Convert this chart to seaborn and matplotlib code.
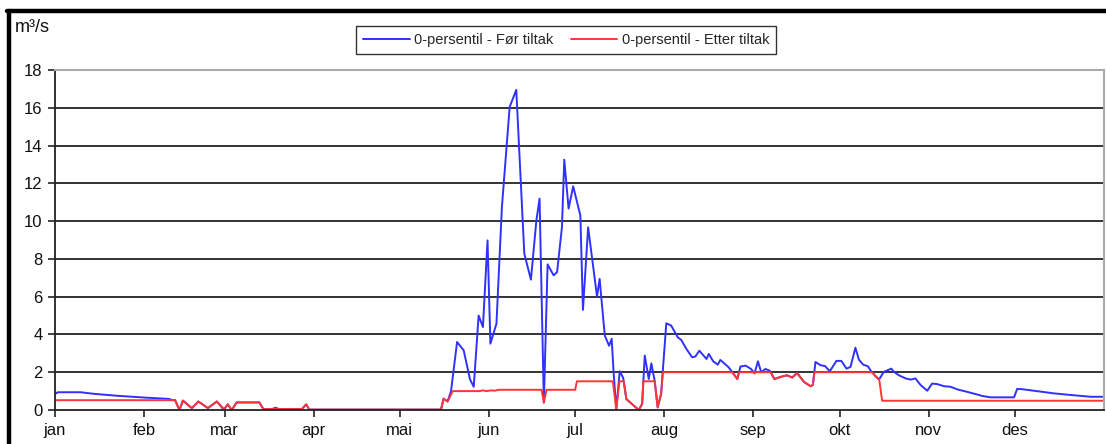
import numpy as np
import pandas as pd
import matplotlib
matplotlib.use("Agg")
import matplotlib.pyplot as plt
from matplotlib.lines import Line2D
import seaborn as sns

# ---- data (day of year, m3/s) ----
month_labels = ["jan", "feb", "mar", "apr", "mai", "jun", "jul", "aug", "sep", "okt", "nov", "des"]
month_starts = [0, 31, 59, 90, 120, 151, 181, 212, 243, 273, 304, 334]
y_ticks = [0, 2, 4, 6, 8, 10, 12, 14, 16, 18]

before_days = [0, 1, 9, 11, 14, 18, 22, 27, 32, 39.5, 41, 41.8, 43.3, 44.5, 47.6, 49.9, 53.2, 56.3, 58.8,
               60.1, 61.5, 63.2, 71.1, 72.5, 75.5, 76.7, 78, 85.9, 87.4, 88.5, 134.3, 135.2, 136.6, 137.8,
               139.9, 142.2, 144.4, 145.7, 147.4, 148.9, 150.5, 151.5, 153.6, 155.5, 158.2, 160.5, 161.7,
               163.3, 165.6, 167.5, 168.6, 170.1, 171.4, 173.5, 174.7, 176.4, 177.2, 178.7, 180.3, 182.8,
               183.7, 185.5, 188.6, 189.5, 191.3, 192.8, 193.7, 194.4, 195.3, 196.5, 197.7, 198.8, 201.4,
               203.1, 204.3, 205.2, 206.6, 207.5, 208.6, 209.7, 210.9, 212.7, 214.4, 216.7, 217.9, 219.7,
               221.7, 222.8, 224.2, 226.7, 227.5, 229, 230.6, 231.5, 234.4, 237.4, 238.5, 240.3, 242.2,
               243.4, 244.6, 245.7, 247.2, 248.7, 250.3, 252.4, 254.7, 256.5, 258.2, 260.6, 262.9, 263.7,
               264.6, 266.4, 267.9, 269.6, 271.9, 273.6, 275.4, 276.8, 278.5, 279.7, 281.2, 282.8, 284,
               285.5, 286.7, 288.4, 289.6, 291, 291.9, 293.6, 296, 297.7, 299.4, 301.2, 303.5, 305.2, 307,
               309.3, 311.6, 314, 317.4, 320.9, 322.7, 325.6, 333.7, 334.8, 337.1, 340.6, 344.1, 347.6,
               352.3, 356.9, 360.4, 364.4]
before_vals = [0.85, 0.94, 0.94, 0.9, 0.85, 0.8, 0.75, 0.7, 0.65, 0.59, 0.52, 0.52, 0.0, 0.5, 0.1, 0.45, 0.1,
               0.45, 0.0, 0.3, 0.0, 0.4, 0.4, 0.05, 0.05, 0.12, 0.05, 0.05, 0.3, 0.02, 0.02, 0.6, 0.45, 1.0,
               3.6, 3.16, 1.62, 1.23, 5.0, 4.39, 8.98, 3.51, 4.57, 10.74, 16.04, 16.95, 13.2,
               8.27, 6.9, 10.04, 11.19, 0.39, 7.71, 7.13, 7.3, 9.69, 13.25, 10.66, 11.84, 10.3,
               5.3, 9.67, 6.0, 6.94, 3.94, 3.4, 3.77, 1.91, 0.05, 2.05, 1.70, 0.58, 0.23,
               0.0, 0.32, 2.88, 1.64, 2.47, 1.59, 0.14, 0.85, 4.59, 4.47, 3.85, 3.71, 3.23,
               2.79, 2.83, 3.14, 2.70, 2.97, 2.58, 2.40, 2.65, 2.26, 1.64, 2.30, 2.35, 2.17,
               1.94, 2.58, 2.0, 2.17, 2.08, 1.64, 1.75, 1.84, 1.72, 1.96, 1.49, 1.26, 1.32,
               2.54, 2.37, 2.33, 2.05, 2.6, 2.6, 2.19, 2.28, 3.30, 2.67, 2.4, 2.32, 2.05,
               1.79, 1.61, 2.02, 2.1, 2.19, 2.02, 1.84, 1.67, 1.61, 1.67, 1.32, 1.02, 1.40, 1.37,
               1.26, 1.23, 1.09, 0.96, 0.82, 0.74, 0.67, 0.67, 1.12, 1.09, 1.02, 0.95, 0.88,
               0.81, 0.75, 0.70, 0.70]

after_days = [0, 41.8, 43.3, 44.5, 47.6, 49.9, 53.2, 56.3, 58.8, 60.1, 61.5, 63.2, 71.1, 72.5, 85.9, 87.4,
              88.5, 134.3, 135.2, 136.6, 138.4, 147.6, 149, 150, 152, 153, 154.4, 169.3, 170.1, 171.0,
              181, 181.6, 194.1, 195.3, 196.4, 197.9, 198.8, 201.4, 203.1, 204.3, 204.7, 208.7, 209.7,
              210.9, 211.5, 235.7, 237.4, 238.0, 243.1, 243.4, 243.5, 249.0, 250.3, 252.4, 254.7, 256.5,
              258.2, 260.6, 262.9, 263.7, 264.25, 284.3, 285.5, 286.8, 287.8, 365]
after_vals = [0.52, 0.52, 0.0, 0.5, 0.1, 0.45, 0.1, 0.45, 0.05, 0.3, 0.0, 0.4, 0.4, 0.05, 0.05, 0.3,
              0.02, 0.02, 0.6, 0.45, 1.0, 1.0, 1.04, 1.0, 1.04, 1.02, 1.07, 1.07, 0.39, 1.07,
              1.07, 1.52, 1.52, 0.05, 1.52, 1.52, 0.58, 0.23, 0.0, 0.32, 1.52, 1.52, 0.14,
              0.85, 2.0, 2.0, 1.64, 2.0, 2.0, 1.94, 2.0, 2.0, 1.64, 1.75, 1.84, 1.72,
              1.96, 1.49, 1.26, 1.32, 2.0, 2.0, 1.79, 1.61, 0.49, 0.49]

series_names = ["0-persentil - Før tiltak", "0-persentil - Etter tiltak"]

df = pd.concat([
    pd.DataFrame({"day": before_days, "q": before_vals, "serie": series_names[0]}),
    pd.DataFrame({"day": after_days, "q": after_vals, "serie": series_names[1]}),
], ignore_index=True)

sns.set_theme(style="white")
plt.rcParams["font.family"] = ["Liberation Sans", "DejaVu Sans"]

W, H = 1106, 444
fig = plt.figure(figsize=(W / 100, H / 100), dpi=100)
ax = fig.add_axes([55 / W, 1 - 410 / H, (1104 - 55) / W, (410 - 70) / H])

blue, red = "#3030ff", "#ff3535"
sns.lineplot(data=df, x="day", y="q", hue="serie", palette=[blue, red],
             linewidth=1.4, ax=ax, sort=False, estimator=None, legend=False)

ax.set_xlim(0, 365)
ax.set_ylim(0, 18)
ax.set_yticks(y_ticks)
ax.set_yticklabels([str(v) for v in y_ticks], fontsize=12, color="#111111")
ax.set_xticks(month_starts)
ax.set_xticklabels(month_labels, fontsize=12, color="#111111")
ax.set_xlabel("")
ax.set_ylabel("")
for y in y_ticks[1:-1]:
    ax.axhline(y, color="#333333", lw=1.4, zorder=0)
ax.tick_params(axis="both", which="both", direction="out", length=5, width=1.2, color="#222222",
               left=True, bottom=True, pad=4)
for side in ["top", "right"]:
    ax.spines[side].set_color("#aaaaaa")
    ax.spines[side].set_linewidth(1.5)
for side in ["left", "bottom"]:
    ax.spines[side].set_color("#222222")
    ax.spines[side].set_linewidth(1.3)

fig.text(15 / W, 1 - 28 / H, "m³/s", fontsize=13, va="center", ha="left", color="#111111")

handles = [Line2D([], [], color=blue, lw=1.4), Line2D([], [], color=red, lw=1.4)]
leg = fig.legend(handles, series_names, loc="center", bbox_to_anchor=(566 / W, 1 - 40 / H), ncol=2,
                 fontsize=10.5, frameon=True, fancybox=False, handlelength=3.2, handletextpad=0.3,
                 columnspacing=1.2, borderpad=0.5)
leg.get_frame().set_edgecolor("black")
leg.get_frame().set_linewidth(1.0)

# outer figure frame
fig.add_artist(Line2D([7 / W, 1.0], [1 - 11 / H, 1 - 11 / H], color="black", lw=3.2,
                      transform=fig.transFigure))
fig.add_artist(Line2D([9 / W, 9 / W], [0, 1 - 11 / H], color="black", lw=3.2,
                      transform=fig.transFigure))

fig.savefig("out.png", dpi=100)
